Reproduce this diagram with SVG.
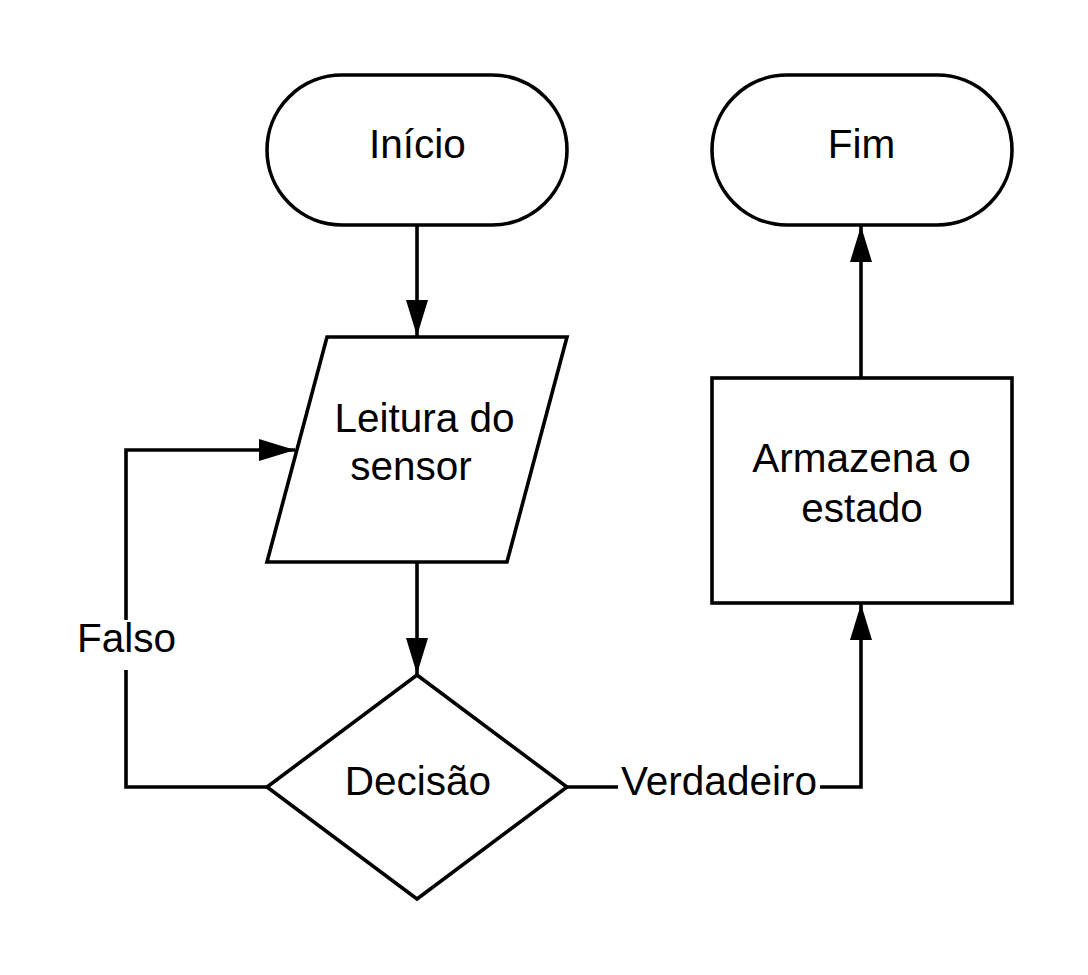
<svg xmlns="http://www.w3.org/2000/svg" width="1088" height="975" viewBox="0 0 1088 975">
<style>
.shape{fill:#ffffff;stroke:#000000;stroke-width:3.6;stroke-linejoin:miter}
.edge{fill:none;stroke:#000000;stroke-width:3.6}
.lbl{font-family:"Liberation Sans",Arial,sans-serif;font-size:40.5px;fill:#000000;text-anchor:middle}
</style>
<defs>
<marker id="arrow" markerUnits="userSpaceOnUse" markerWidth="38" markerHeight="24" refX="36" refY="11" orient="auto">
<path d="M0,0 L36,11 L0,22 Z" fill="#000000"/>
</marker>
</defs>
<rect width="1088" height="975" fill="#ffffff"/>
<g id="connectors">
<path class="edge" d="M417,225 V336" marker-end="url(#arrow)"/>
<path class="edge" d="M417,562 V674" marker-end="url(#arrow)"/>
<path class="edge" d="M267,787 H126 V670"/>
<path class="edge" d="M126,620 V450 H295" marker-end="url(#arrow)"/>
<path class="edge" d="M567,787 H618"/>
<path class="edge" d="M820,787 H861 V604" marker-end="url(#arrow)"/>
<path class="edge" d="M861,378 V226" marker-end="url(#arrow)"/>
<text class="lbl" x="126.5" y="652">Falso</text>
<text class="lbl" x="719" y="795">Verdadeiro</text>
</g>
<g id="inicio">
<rect class="shape" x="267" y="75" width="300" height="150" rx="75" ry="75"/>
<text class="lbl" x="417.5" y="158">Início</text>
</g>
<g id="fim">
<rect class="shape" x="712" y="75" width="300" height="150" rx="75" ry="75"/>
<text class="lbl" x="861.5" y="158">Fim</text>
</g>
<g id="leitura">
<polygon class="shape" points="327,337 567,337 507,562 267,562"/>
<text class="lbl" x="424.5" y="432">Leitura do</text>
<text class="lbl" x="411" y="480">sensor</text>
</g>
<g id="decisao">
<polygon class="shape" points="417,675 567,787 417,899 267,787"/>
<text class="lbl" x="418" y="795">Decisão</text>
</g>
<g id="armazena">
<rect class="shape" x="712" y="378" width="300" height="225"/>
<text class="lbl" x="861.5" y="472">Armazena o</text>
<text class="lbl" x="862" y="522">estado</text>
</g>
</svg>
